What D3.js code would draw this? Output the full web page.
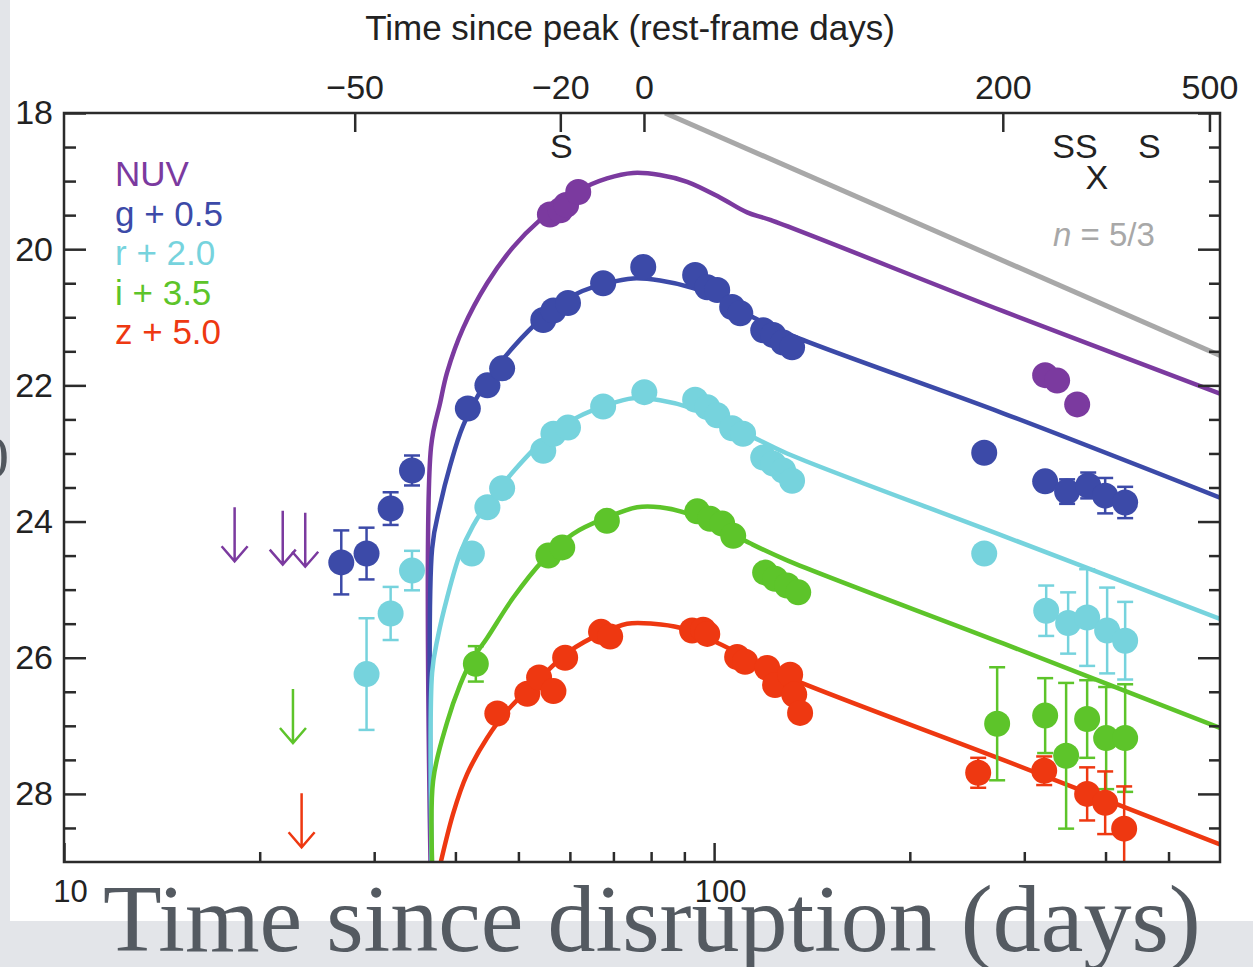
<!DOCTYPE html>
<html>
<head>
<meta charset="utf-8">
<script src="https://cdn.jsdelivr.net/npm/d3@7"></script>
<style>
  html, body { margin: 0; padding: 0; background: #e3e5e9; }
  svg { display: block; }
  text { font-family: "Liberation Sans", Arial, Helvetica, sans-serif; }
</style>
</head>
<body>
<svg id="chart"></svg>
<script>
// time since disruption (days), magnitude, error (0 = no bar)
var nuvPoints = [[55.9, 19.49, 0], [58.0, 19.43, 0], [59.2, 19.35, 0], [61.8, 19.16, 0],
  [323.0, 21.85, 0], [337.0, 21.93, 0], [361.8, 22.28, 0]]
var gPoints = [[26.7, 24.60, 0.47], [29.2, 24.47, 0.38], [31.8, 23.81, 0.24], [34.3, 23.25, 0.22],
  [41.8, 22.34, 0], [44.8, 22.00, 0], [47.2, 21.75, 0], [54.6, 21.04, 0], [56.6, 20.90, 0],
  [59.6, 20.79, 0], [67.5, 20.50, 0], [77.8, 20.26, 0], [93.5, 20.38, 0], [97.6, 20.56, 0],
  [101.1, 20.60, 0], [106.6, 20.85, 0], [109.7, 20.94, 0], [119.0, 21.19, 0], [123.3, 21.26, 0],
  [127.7, 21.37, 0], [131.8, 21.44, 0],
  [260.3, 22.99, 0], [323.0, 23.41, 0], [349.1, 23.56, 0.18], [376.2, 23.47, 0.19],
  [399.5, 23.62, 0.26], [428.8, 23.72, 0.23]]
var rPoints = [[29.2, 26.24, 0.82], [31.8, 25.35, 0.39], [34.3, 24.72, 0.29],
  [42.4, 24.47, 0], [44.8, 23.79, 0], [47.2, 23.51, 0], [54.6, 22.96, 0], [56.6, 22.71, 0],
  [59.6, 22.62, 0], [67.5, 22.31, 0], [78.1, 22.10, 0], [93.5, 22.21, 0], [97.6, 22.32, 0],
  [101.1, 22.44, 0], [106.6, 22.63, 0], [110.8, 22.71, 0], [119.0, 23.06, 0], [123.3, 23.15, 0],
  [127.7, 23.25, 0], [131.8, 23.40, 0],
  [260.3, 24.47, 0], [324.2, 25.31, 0.37], [350.4, 25.49, 0.45], [374.8, 25.41, 0.71],
  [402.3, 25.60, 0.63], [428.8, 25.75, 0.57]]
var iPoints = [[43.0, 26.09, 0.26], [55.6, 24.50, 0], [58.4, 24.38, 0], [68.4, 23.99, 0],
  [94.2, 23.85, 0], [98.6, 23.96, 0], [102.9, 24.03, 0], [107.0, 24.21, 0], [119.8, 24.75, 0],
  [124.1, 24.84, 0], [129.5, 24.94, 0], [134.7, 25.04, 0],
  [272.5, 26.97, 0.83], [323.0, 26.85, 0.55], [347.9, 27.44, 1.07], [374.8, 26.90, 0.57],
  [400.9, 27.18, 0.75], [428.8, 27.18, 0.79]]
var zPoints = [[46.4, 26.82, 0], [51.6, 26.53, 0], [53.8, 26.29, 0], [56.6, 26.49, 0],
  [59.0, 26.00, 0], [67.0, 25.62, 0], [69.2, 25.69, 0], [92.5, 25.60, 0], [96.2, 25.59, 0],
  [97.6, 25.65, 0], [108.5, 25.99, 0], [111.6, 26.06, 0], [120.7, 26.15, 0], [124.1, 26.40, 0],
  [130.9, 26.25, 0], [132.8, 26.54, 0], [135.6, 26.81, 0],
  [254.8, 27.69, 0.22], [321.9, 27.66, 0.21], [374.8, 28.00, 0.39], [399.5, 28.13, 0.46],
  [427.3, 28.51, 0.62]]

// upper limits: time, limiting magnitude
var nuvLimits = [[18.3, 23.79], [21.7, 23.84], [23.5, 23.87]]
var iLimits = [[22.5, 26.46]]
var zLimits = [[23.2, 27.99]]

// model light curves: time, magnitude
var nuvModel = [[36.69, 29.4], [36.69, 22.91], [37.89, 22.26], [38.84, 21.81], [41.11, 21.16],
  [44.75, 20.50], [49.08, 19.97], [54.00, 19.57], [62.21, 19.13], [68.44, 18.96], [75.05, 18.88],
  [82.58, 18.91], [90.88, 19.01], [102.1, 19.24], [112.4, 19.46], [122.0, 19.57], [278.3, 20.91],
  [600, 22.12]]
var gModel = [[36.83, 29.4], [36.83, 24.40], [37.89, 23.76], [39.26, 23.18], [41.11, 22.59],
  [44.75, 21.93], [49.08, 21.44], [54.58, 21.00], [61.55, 20.65], [68.44, 20.50], [75.05, 20.43],
  [82.58, 20.46], [92.83, 20.57], [102.1, 20.72], [114.8, 21.00], [129.5, 21.24], [278.3, 22.41],
  [600, 23.65]]
var rModel = [[36.83, 29.4], [36.83, 26.22], [37.62, 25.68], [38.84, 25.12], [40.67, 24.47],
  [42.59, 24.06], [44.75, 23.74], [48.04, 23.37], [54.58, 22.81], [61.55, 22.47], [68.44, 22.29],
  [75.05, 22.19], [82.58, 22.22], [92.83, 22.34], [102.1, 22.51], [114.8, 22.76], [129.5, 23.00],
  [278.3, 24.21], [600, 25.43]]
var iModel = [[36.96, 29.4], [36.96, 27.81], [38.84, 26.95], [40.67, 26.40], [42.3, 26.05],
  [44.75, 25.71], [49.08, 25.12], [54.58, 24.57], [60.69, 24.18], [68.44, 23.94], [76.13, 23.79],
  [82.58, 23.79], [90.88, 23.88], [102.1, 24.09], [113.6, 24.32], [129.5, 24.57], [278.3, 25.79],
  [600, 27.03]]
var zModel = [[37.36, 29.3], [39.68, 28.29], [41.69, 27.71], [44.75, 27.18], [48.04, 26.78],
  [53.43, 26.34], [60.04, 25.90], [66.77, 25.65], [73.48, 25.50], [80.58, 25.50], [88.65, 25.56],
  [99.65, 25.75], [112.4, 26.00], [126.4, 26.24], [278.3, 27.50], [600, 28.74]]

// n = 5/3 power law
var slopeLine = [[84.05, 18.0], [600, 21.56]]

var bandNames = ['NUV', 'g + 0.5', 'r + 2.0', 'i + 3.5', 'z + 5.0']
var bandColors = ['#7b3a9f', '#3c4aa8', '#76d3dd', '#5dc42a', '#ee3811']

var peakDay = 78
var topTicks = [-50, -20, 0, 200, 500]
var bottomMajor = [10, 100]
var bottomMinor = [20, 30, 40, 50, 60, 70, 80, 90, 200, 300, 400, 500]
var yMajor = [18, 20, 22, 24, 26, 28]
var yMinor = d3.range(18.5, 29, 0.5).filter(v => yMajor.indexOf(v) === -1)

// spectra / x-ray epochs along the top
var epochMarks = [
  {label: 'S', t: 58.2, row: 0},
  {label: 'SS', t: 359, row: 0},
  {label: 'S', t: 467, row: 0},
  {label: 'X', t: 388, row: 1}
]

var bands = bandNames.map((name, i) => ({
  name: name,
  color: bandColors[i],
  points: [nuvPoints, gPoints, rPoints, iPoints, zPoints][i],
  model: [nuvModel, gModel, rModel, iModel, zModel][i],
  limits: [nuvLimits, [], [], iLimits, zLimits][i]
}))

var width = 1253
var height = 967

var x = d3.scaleLog().domain([10, 600]).range([64, 1220])
var y = d3.scaleLinear().domain([18, 29]).range([113, 862])

var svg = d3.select('#chart').attr('width', width).attr('height', height)

// slide backdrop
svg.append('rect').attr('width', width).attr('height', height).attr('fill', '#e3e5e9')
svg.append('text')
  .attr('x', -21).attr('y', 477)
  .style('font-family', '"Liberation Serif", "DejaVu Serif", serif')
  .attr('font-size', 60).attr('fill', '#50565d')
  .text('0')
svg.append('rect').attr('x', 10).attr('y', 0).attr('width', width - 10).attr('height', 921).attr('fill', '#fff')

svg.append('clipPath').attr('id', 'plot-clip')
  .append('rect').attr('x', 64).attr('y', 113).attr('width', 1156).attr('height', 749)

var plot = svg.append('g').attr('clip-path', 'url(#plot-clip)')

var line = d3.line()
  .x(d => x(d[0]))
  .y(d => y(d[1]))

var curveLine = d3.line()
  .x(d => x(d[0]))
  .y(d => y(d[1]))
  .curve(d3.curveCatmullRom.alpha(0.5))

plot.append('path')
  .attr('d', line(slopeLine))
  .attr('fill', 'none').attr('stroke', '#a8a8a8').attr('stroke-width', 5)

bands.forEach(b => {
  plot.append('path')
    .attr('d', curveLine(b.model))
    .attr('fill', 'none')
    .attr('stroke', b.color)
    .attr('stroke-width', 4.5)
    .attr('stroke-linejoin', 'round')
})

bands.forEach(b => {
  var g = plot.append('g')
  var withErr = b.points.filter(d => d[2] > 0)

  g.selectAll('line.bar').data(withErr).enter().append('line')
    .attr('x1', d => x(d[0])).attr('x2', d => x(d[0]))
    .attr('y1', d => y(d[1] - d[2])).attr('y2', d => y(d[1] + d[2]))
    .attr('stroke', b.color).attr('stroke-width', 2.5)
  g.selectAll('line.cap').data(withErr.flatMap(d => [[d[0], d[1] - d[2]], [d[0], d[1] + d[2]]]))
    .enter().append('line')
    .attr('x1', d => x(d[0]) - 8).attr('x2', d => x(d[0]) + 8)
    .attr('y1', d => y(d[1])).attr('y2', d => y(d[1]))
    .attr('stroke', b.color).attr('stroke-width', 2.5)

  g.selectAll('circle').data(b.points).enter().append('circle')
    .attr('cx', d => x(d[0]))
    .attr('cy', d => y(d[1]))
    .attr('r', 13)
    .attr('fill', b.color)

  // upper limits drawn as down arrows
  g.selectAll('path.limit').data(b.limits).enter().append('path')
    .attr('d', d => {
      var px = x(d[0]), py = y(d[1])
      return 'M' + px + ',' + py + 'V' + (py + 54) +
        'M' + (px - 13) + ',' + (py + 39) + 'L' + px + ',' + (py + 54) + 'L' + (px + 13) + ',' + (py + 39)
    })
    .attr('fill', 'none').attr('stroke', b.color).attr('stroke-width', 2.5)
})

// axes
function styleAxis(sel) {
  sel.select('.domain').remove()
  sel.selectAll('.tick line').attr('stroke', '#2b2b2b').attr('stroke-width', 2.5)
  sel.selectAll('.tick text').attr('fill', '#222').style('font-family', '"Liberation Sans", Arial, sans-serif')
}

svg.append('g').attr('transform', 'translate(0,862)')
  .call(d3.axisBottom(x).tickValues(bottomMinor).tickSizeInner(-10).tickSizeOuter(0).tickFormat(''))
  .call(styleAxis)
svg.append('g').attr('transform', 'translate(0,862)')
  .call(d3.axisBottom(x).tickValues(bottomMajor).tickSizeInner(-19).tickSizeOuter(0)
    .tickPadding(18).tickFormat(d3.format('d')))
  .call(styleAxis)
  .call(g => g.selectAll('.tick text').attr('font-size', 31).attr('dx', 6))

svg.append('g').attr('transform', 'translate(0,113)')
  .call(d3.axisTop(x).tickValues(topTicks.map(v => peakDay + v)).tickSizeInner(-19).tickSizeOuter(0)
    .tickPadding(14).tickFormat(d => d3.format('d')(Math.round(d - peakDay)).replace('-', '\u2212')))
  .call(styleAxis)
  .call(g => g.selectAll('.tick text').attr('font-size', 34))

svg.append('g').attr('transform', 'translate(64,0)')
  .call(d3.axisLeft(y).tickValues(yMinor).tickSizeInner(-12).tickSizeOuter(0).tickFormat(''))
  .call(styleAxis)
svg.append('g').attr('transform', 'translate(64,0)')
  .call(d3.axisLeft(y).tickValues(yMajor).tickSizeInner(-22).tickSizeOuter(0).tickPadding(11))
  .call(styleAxis)
  .call(g => g.selectAll('.tick text').attr('font-size', 34))

svg.append('g').attr('transform', 'translate(1220,0)')
  .call(d3.axisRight(y).tickValues(yMinor).tickSizeInner(-11).tickSizeOuter(0).tickFormat(''))
  .call(styleAxis)
svg.append('g').attr('transform', 'translate(1220,0)')
  .call(d3.axisRight(y).tickValues(yMajor).tickSizeInner(-22).tickSizeOuter(0).tickFormat(''))
  .call(styleAxis)

svg.append('rect')
  .attr('x', 64).attr('y', 113).attr('width', 1156).attr('height', 749)
  .attr('fill', 'none').attr('stroke', '#2b2b2b').attr('stroke-width', 2.5)

// titles and labels
svg.append('text')
  .attr('x', 630).attr('y', 40)
  .attr('text-anchor', 'middle').attr('font-size', 35).attr('fill', '#222')
  .text('Time since peak (rest-frame days)')

svg.selectAll('text.legend').data(bands).enter().append('text')
  .attr('x', 115)
  .attr('y', (d, i) => 186 + i * 39.6)
  .attr('font-size', 35)
  .attr('fill', d => d.color)
  .text(d => d.name)

svg.selectAll('text.epoch').data(epochMarks).enter().append('text')
  .attr('x', d => x(d.t))
  .attr('y', d => d.row === 0 ? 158 : 189)
  .attr('text-anchor', 'middle')
  .attr('font-size', 34)
  .attr('fill', '#222')
  .text(d => d.label)

var nLabel = svg.append('text')
  .attr('x', 1053).attr('y', 246)
  .attr('font-size', 33).attr('fill', '#a8a8a8')
nLabel.append('tspan').attr('font-style', 'italic').text('n')
nLabel.append('tspan').text(' = 5/3')

// slide caption over the figure
svg.append('text')
  .attr('x', 103).attr('y', 951)
  .style('font-family', '"Liberation Serif", "DejaVu Serif", "Times New Roman", serif')
  .attr('font-size', 96)
  .attr('fill', '#545a61')
  .text('Time since disruption (days)')
</script>
</body>
</html>
